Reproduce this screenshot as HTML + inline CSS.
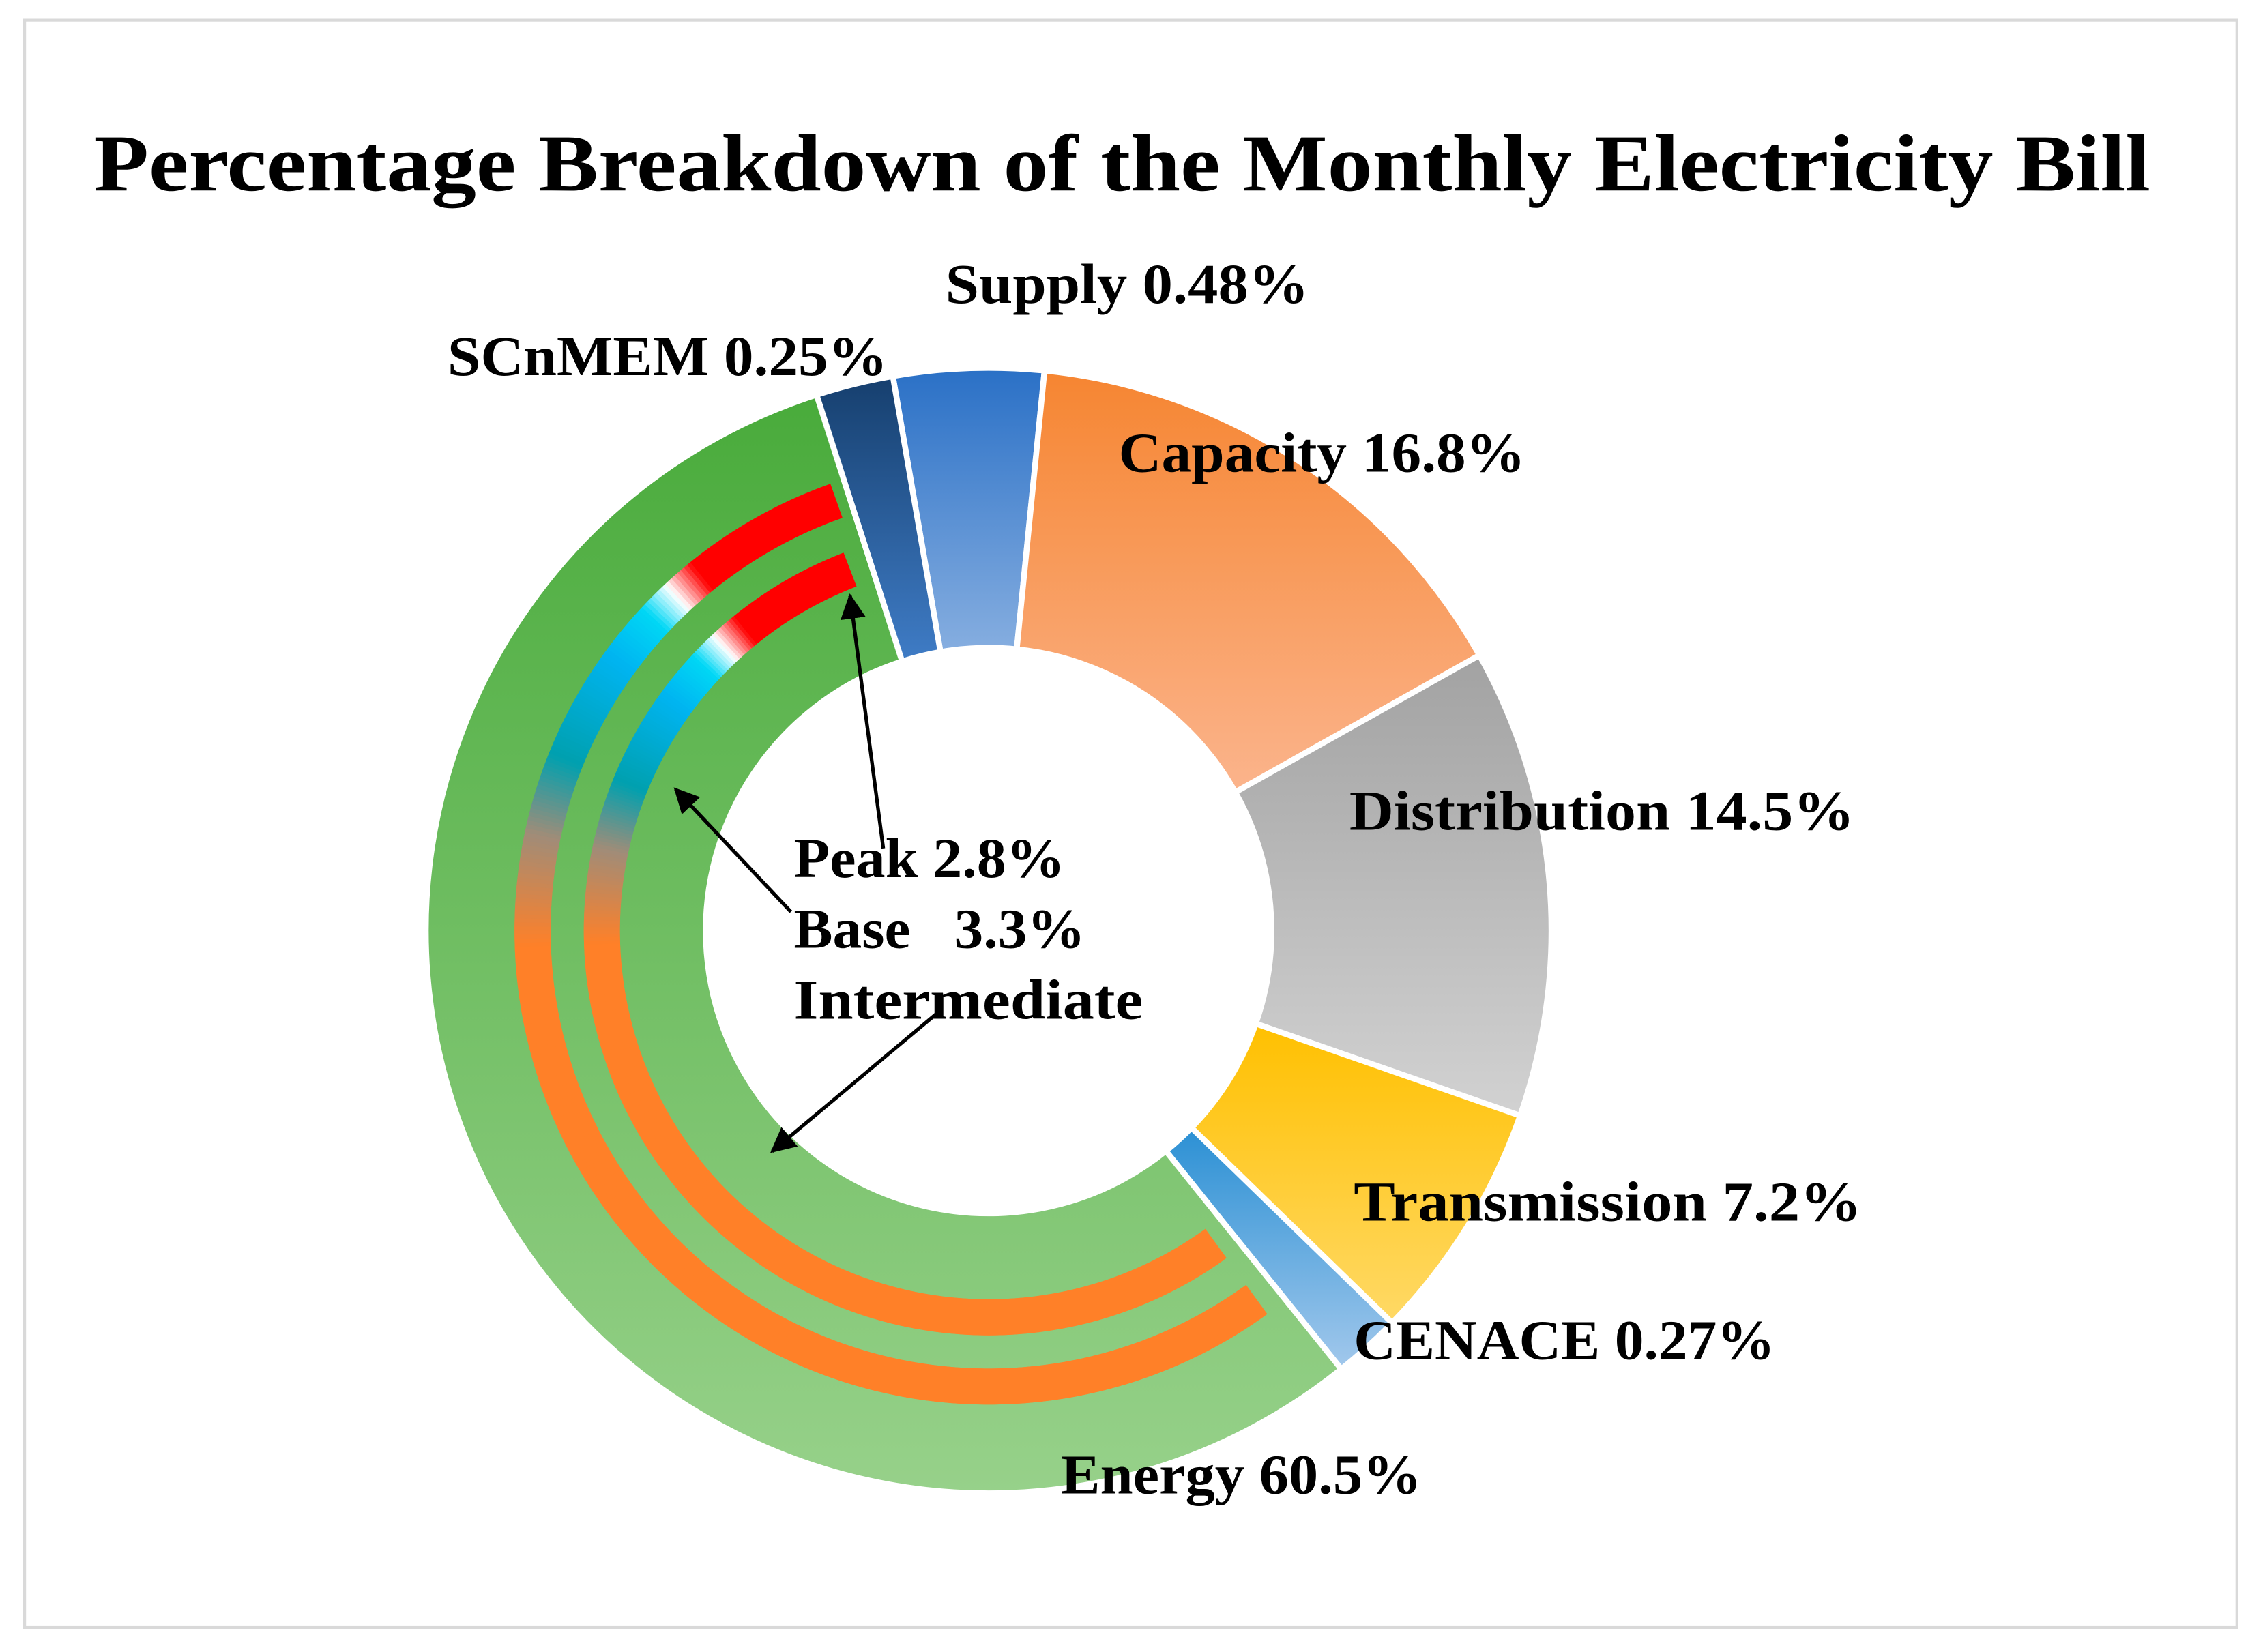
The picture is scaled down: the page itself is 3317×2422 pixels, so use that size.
<!DOCTYPE html>
<html><head><meta charset="utf-8"><style>
html,body{margin:0;padding:0;background:#fff;}
svg{display:block;}
text{font-family:"Liberation Serif",serif;font-weight:bold;fill:#000;}
</style></head><body>
<svg id="chart" width="3317" height="2422" viewBox="0 0 1568 1145" xmlns="http://www.w3.org/2000/svg">
<defs>
<marker id="ah" viewBox="0 0 10 10" refX="9" refY="5" markerWidth="7" markerHeight="7" orient="auto"><path d="M0,0 L10,5 L0,10 z" fill="#000"/></marker>
</defs>
<rect x="17" y="14" width="1533" height="1114" fill="#fff" stroke="#d9d9d9" stroke-width="2"/>
<text x="65" y="132" font-size="56" textLength="1425" lengthAdjust="spacingAndGlyphs">Percentage Breakdown of the Monthly Electricity Bill</text>
<g id="slices"></g>
<g id="stripes"></g>
<g id="labels"></g>
<g stroke="#000" stroke-width="2.5" fill="none">
<line x1="612" y1="588" x2="589" y2="413" marker-end="url(#ah)"/>
<line x1="548" y1="632" x2="468" y2="547" marker-end="url(#ah)"/>
<line x1="652" y1="700" x2="535" y2="798" marker-end="url(#ah)"/>
</g>
<text x="550" y="608" font-size="39" textLength="188" lengthAdjust="spacingAndGlyphs">Peak 2.8%</text>
<text x="550" y="657" font-size="39" xml:space="preserve" textLength="202" lengthAdjust="spacingAndGlyphs">Base   3.3%</text>
<text x="550" y="706" font-size="39" textLength="242" lengthAdjust="spacingAndGlyphs">Intermediate</text>
</svg>
<script>
// Slice names, printed labels, and angular spans (degrees as drawn in the picture)
const categories = ["Supply","Capacity","Distribution","Transmission","CENACE","Energy","SCnMEM"];
const labelTexts = ["Supply 0.48%","Capacity 16.8%","Distribution 14.5%","Transmission  7.2%","CENACE 0.27%","Energy 60.5%","SCnMEM 0.25%"];
const spanDegrees = [15.5, 55, 48.5, 25, 7, 201, 8];
const startDegree = -9.8;
const colorTop = ["#2a70c6","#f68531","#a2a2a2","#ffc000","#2b90d4","#49ab3b","#163f6e"];
const colorBottom = ["#86aee0","#fbb48c","#d2d2d2","#ffd966","#a2c8ec","#97d18a","#3f7cc6"];
const labelX = [655,775,935,938,938,735,310];
const labelY = [210,327,575,846,942,1035,260];
const labelW = [252,282,350,352,292,250,305];

const cx=685, cy=645, R=390, r0=196;
const svg="http://www.w3.org/2000/svg";
function pt(a,rad){const t=(a-90)*Math.PI/180;return [cx+rad*Math.cos(t),cy+rad*Math.sin(t)];}
function angleScale(i){let s=startDegree;for(let k=0;k<i;k++)s+=spanDegrees[k];return [s,s+spanDegrees[i]];}
const defs=document.querySelector('defs');
const sg=document.getElementById('slices');
categories.forEach((c,i)=>{
  const [a0,a1]=angleScale(i);
  const g=document.createElementNS(svg,'linearGradient');
  g.setAttribute('id','g'+i);g.setAttribute('x1','0');g.setAttribute('y1','0');g.setAttribute('x2','0');g.setAttribute('y2','1');
  g.innerHTML='<stop offset="0" stop-color="'+colorTop[i]+'"/><stop offset="1" stop-color="'+colorBottom[i]+'"/>';
  defs.appendChild(g);
  const p1=pt(a0,R),p2=pt(a1,R),p3=pt(a1,r0),p4=pt(a0,r0);
  const lg=(a1-a0)>180?1:0;
  const p=document.createElementNS(svg,'path');
  p.setAttribute('d',`M${p1} A${R},${R} 0 ${lg} 1 ${p2} L${p3} A${r0},${r0} 0 ${lg} 0 ${p4} Z`);
  p.setAttribute('fill','url(#g'+i+')');p.setAttribute('stroke','#fff');p.setAttribute('stroke-width','4');
  
  
  sg.appendChild(p);
  const t=document.createElementNS(svg,'text');
  t.setAttribute('x',labelX[i]);t.setAttribute('y',labelY[i]);t.setAttribute('font-size','39');
  t.setAttribute('xml:space','preserve');
  t.setAttribute('textLength',labelW[i]);t.setAttribute('lengthAdjust','spacingAndGlyphs');
  t.textContent=labelTexts[i];
  
  
  document.getElementById('labels').appendChild(t);
});
// Energy sub-period stripes
const stripeRadii=[316,268];
const stripeStart=[144,144];
const stripeEnd=[340.5,339];
const colorStops=[[140,[255,128,40]],[268,[255,128,40]],[282,[160,140,120]],[292,[0,160,175]],[306,[0,180,240]],[313,[0,215,245]],[317,[255,255,255]],[321,[255,0,0]],[345,[255,0,0]]];
function colAt(a){for(let k=0;k<colorStops.length-1;k++){const [a0,c0]=colorStops[k],[a1,c1]=colorStops[k+1];if(a<=a1){const f=(a-a0)/(a1-a0);return 'rgb('+c0.map((v,j)=>Math.round(v+(c1[j]-v)*f)).join(',')+')';}}return 'rgb(255,0,0)';}
const stg=document.getElementById('stripes');
stripeRadii.forEach((rr,si)=>{
  for(let a=stripeStart[si];a<stripeEnd[si];a+=0.5){
    const b=Math.min(a+1,stripeEnd[si]);
    const p1=pt(a,rr),p2=pt(b,rr);
    const p=document.createElementNS(svg,'path');
    p.setAttribute('d',`M${p1} A${rr},${rr} 0 0 1 ${p2}`);
    p.setAttribute('stroke',colAt(a+0.25));p.setAttribute('stroke-width','25');p.setAttribute('fill','none');
    
    
    stg.appendChild(p);
  }
});
</script>
</body></html>
